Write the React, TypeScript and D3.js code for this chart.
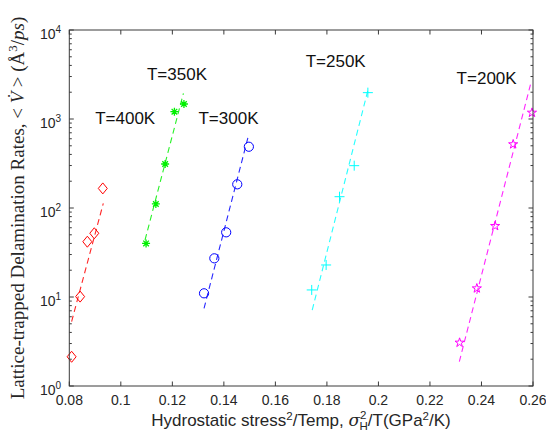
import React from "react";
import * as d3 from "d3";

// Hydrostatic stress^2 / T (GPa^2/K) and delamination rates (Å^3/ps) per temperature
const x400 = [0.0809, 0.0842, 0.087, 0.0897, 0.093];
const y400 = [2.13, 10.1, 41.8, 52, 166];
const x350 = [0.1098, 0.1136, 0.1172, 0.1208, 0.1245];
const y350 = [40, 111, 312, 1208, 1474];
const x300 = [0.1323, 0.1363, 0.1409, 0.1452, 0.1497];
const y300 = [11, 27.2, 53.3, 184.5, 488];
const x250 = [0.1741, 0.1797, 0.1849, 0.1906, 0.1959];
const y250 = [12, 22.9, 134, 299, 1977];
const x200 = [0.2315, 0.2382, 0.2453, 0.2523, 0.2596];
const y200 = [3.07, 12.5, 62.8, 520, 1177];

// Exponential fit lines (end points)
const fitX400 = [0.0809, 0.0932];
const fitY400 = [5.3, 113];
const fitX350 = [0.1094, 0.1243];
const fitY350 = [43.7, 1945];
const fitX300 = [0.1323, 0.1495];
const fitY300 = [7.46, 644];
const fitX250 = [0.1743, 0.1961];
const fitY250 = [7.14, 2213];
const fitX200 = [0.2314, 0.2593];
const fitY200 = [1.88, 2625];

const temperatureLabels = ["T=400K", "T=350K", "T=300K", "T=250K", "T=200K"];
const xTicks = [0.08, 0.1, 0.12, 0.14, 0.16, 0.18, 0.2, 0.22, 0.24, 0.26];
const xTickLabels = ["0.08", "0.1", "0.12", "0.14", "0.16", "0.18", "0.2", "0.22", "0.24", "0.26"];
const yDecades = [1, 10, 100, 1000, 10000];
const yExponents = ["0", "1", "2", "3", "4"];

type Marker = "diamond" | "asterisk" | "circle" | "plus" | "star";

const series: {
  xs: number[]; ys: number[]; fx: number[]; fy: number[];
  color: string; marker: Marker; label: string; lx: number; ly: number;
}[] = [
  { xs: x400, ys: y400, fx: fitX400, fy: fitY400, color: "#ff0000", marker: "diamond", label: temperatureLabels[0], lx: 0.1017, ly: 982 },
  { xs: x350, ys: y350, fx: fitX350, fy: fitY350, color: "#00f000", marker: "asterisk", label: temperatureLabels[1], lx: 0.1218, ly: 3057 },
  { xs: x300, ys: y300, fx: fitX300, fy: fitY300, color: "#0000ff", marker: "circle", label: temperatureLabels[2], lx: 0.1418, ly: 982 },
  { xs: x250, ys: y250, fx: fitX250, fy: fitY250, color: "#00ffff", marker: "plus", label: temperatureLabels[3], lx: 0.1834, ly: 4315 },
  { xs: x200, ys: y200, fx: fitX200, fy: fitY200, color: "#ff00ff", marker: "star", label: temperatureLabels[4], lx: 0.242, ly: 2800 },
];

const W = 546;
const H = 438;
const left = 69.3, right = 533, top = 30, bottom = 386;

const xScale = d3.scaleLinear().domain([0.08, 0.26]).range([left, right]);
const yScale = d3.scaleLog().domain([1, 10000]).range([bottom, top]);

const starPath = d3.symbol().type(d3.symbolStar).size(26)() as string;

function markerPath(m: Marker): string | null {
  switch (m) {
    case "diamond":
      return "M0,-5.5L4.5,0L0,5.5L-4.5,0Z";
    case "asterisk":
      return "M-4,0H4M0,-4V4M-2.8,-2.8L2.8,2.8M-2.8,2.8L2.8,-2.8";
    case "plus":
      return "M-5,0H5M0,-5V5";
    case "star":
      return starPath;
    default:
      return null;
  }
}

const axisColor = "#3a3a3a";
const textColor = "#262626";

export default function App() {
  const minorTicks: number[] = [];
  for (let d = 0; d < 4; d++) {
    for (let k = 2; k <= 9; k++) minorTicks.push(k * Math.pow(10, d));
  }
  const line = d3
    .line<[number, number]>()
    .x((d) => xScale(d[0]))
    .y((d) => yScale(d[1]));

  return (
    <svg
      width={W}
      height={H}
      style={{ position: "absolute", left: 0, top: 0, background: "#fff" }}
      fontFamily="'Liberation Sans', Arial, sans-serif"
    >
      <rect x={0} y={0} width={W} height={H} fill="#fff" />

      {/* fit lines */}
      {series.map((s, i) => (
        <path
          key={"fit" + i}
          d={line([[s.fx[0], s.fy[0]], [s.fx[1], s.fy[1]]]) as string}
          fill="none"
          stroke={s.color}
          strokeWidth={1.1}
          strokeDasharray="6,4"
          opacity={0.85}
        />
      ))}

      {/* data markers */}
      {series.map((s, i) =>
        s.xs.map((xv, j) => {
          const cx = xScale(xv);
          const cy = yScale(s.ys[j]);
          if (s.marker === "circle") {
            return <circle key={`m${i}-${j}`} cx={cx} cy={cy} r={4.6} fill="none" stroke={s.color} strokeWidth={1} />;
          }
          return (
            <path
              key={`m${i}-${j}`}
              d={markerPath(s.marker) as string}
              transform={`translate(${cx},${cy})`}
              fill="none"
              stroke={s.color}
              strokeWidth={s.marker === "asterisk" ? 1.3 : 1}
            />
          );
        })
      )}

      {/* temperature labels */}
      {series.map((s, i) => (
        <text key={"lab" + i} x={xScale(s.lx)} y={yScale(s.ly)} fontSize={17} fill="#111" textAnchor="middle" dominantBaseline="middle">
          {s.label}
        </text>
      ))}

      {/* axes box */}
      <rect x={left} y={top} width={right - left} height={bottom - top} fill="none" stroke={axisColor} strokeWidth={1} />

      {/* x ticks */}
      {xTicks.map((t, i) => (
        <g key={"xt" + i}>
          <line x1={xScale(t)} x2={xScale(t)} y1={bottom} y2={bottom - 4.5} stroke={axisColor} />
          <line x1={xScale(t)} x2={xScale(t)} y1={top} y2={top + 4.5} stroke={axisColor} />
          <text x={xScale(t)} y={405} fontSize={14} fill={textColor} textAnchor="middle">
            {xTickLabels[i]}
          </text>
        </g>
      ))}

      {/* y ticks */}
      {yDecades.map((t, i) => (
        <g key={"yt" + i}>
          <line x1={left} x2={left + 4.5} y1={yScale(t)} y2={yScale(t)} stroke={axisColor} />
          <line x1={right} x2={right - 4.5} y1={yScale(t)} y2={yScale(t)} stroke={axisColor} />
          <text x={40} y={yScale(t) + 8.5} fontSize={14} fill={textColor}>
            10
            <tspan fontSize={10} dy={-6}>{yExponents[i]}</tspan>
          </text>
        </g>
      ))}
      {minorTicks.map((t, i) => (
        <g key={"ym" + i}>
          <line x1={left} x2={left + 2.5} y1={yScale(t)} y2={yScale(t)} stroke={axisColor} />
          <line x1={right} x2={right - 2.5} y1={yScale(t)} y2={yScale(t)} stroke={axisColor} />
        </g>
      ))}

      {/* x axis label */}
      <text x={301} y={426} fontSize={17} fill={textColor} textAnchor="middle">
        Hydrostatic stress
        <tspan fontSize={11.5} dy={-6}>2</tspan>
        <tspan dy={6}>/Temp, </tspan>
        <tspan fontFamily="'DejaVu Serif', serif" fontStyle="italic">σ</tspan>
        <tspan fontSize={11.5} dy={-7}>2</tspan>
        <tspan fontSize={11.5} dx={-7} dy={11}>H</tspan>
        <tspan dy={-4}>/T(GPa</tspan>
        <tspan fontSize={11.5} dy={-6}>2</tspan>
        <tspan dy={6}>/K)</tspan>
      </text>

      {/* y axis label */}
      <text
        transform={`translate(24,208) rotate(-90)`}
        fontSize={19}
        fill={textColor}
        textAnchor="middle"
        fontFamily="'Liberation Serif', 'Times New Roman', serif"
      >
        Lattice-trapped Delamination Rates, &lt;
        <tspan fontStyle="italic"> V̇ </tspan>
        &gt; (Å
        <tspan fontSize={13} dy={-7}>3</tspan>
        <tspan dy={7}>/</tspan>
        <tspan fontStyle="italic">ps</tspan>)
      </text>
    </svg>
  );
}
